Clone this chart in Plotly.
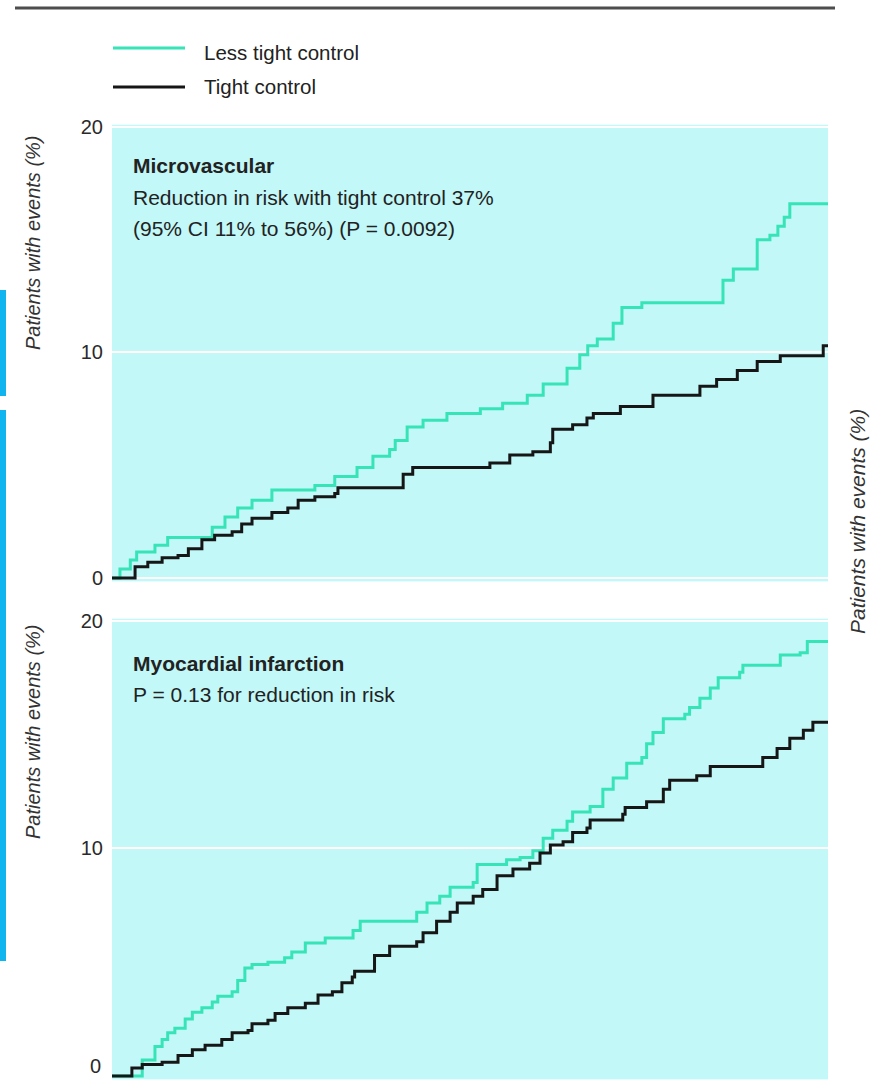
import plotly.graph_objects as go

# Cumulative incidence (%) by years from randomisation, stepwise
micro_less_x = [0, 0.10, 0.23, 0.31, 0.54, 0.70, 1.26, 1.42, 1.58, 1.76, 2.01, 2.55, 2.80,
                3.08, 3.28, 3.49, 3.56, 3.71, 3.91, 4.21, 4.63, 4.91, 5.22, 5.42, 5.72,
                5.88, 5.98, 6.10, 6.30, 6.41, 6.66, 7.68, 7.81, 8.11, 8.27, 8.37, 8.45,
                8.52, 9.0]
micro_less_y = [0, 0.4, 0.8, 1.15, 1.45, 1.8, 2.25, 2.7, 3.1, 3.45, 3.9, 4.1, 4.5,
                4.9, 5.4, 5.7, 6.1, 6.7, 7.0, 7.3, 7.5, 7.75, 8.1, 8.6, 9.3,
                9.9, 10.3, 10.6, 11.3, 12.0, 12.2, 13.2, 13.7, 15.0, 15.2, 15.6, 16.0,
                16.6, 16.6]

micro_tight_x = [0, 0.29, 0.45, 0.63, 0.83, 0.96, 1.13, 1.29, 1.51, 1.63, 1.76, 2.01, 2.21,
                 2.34, 2.55, 2.80, 2.84, 3.66, 3.78, 4.75, 5.00, 5.29, 5.51, 5.54, 5.79,
                 5.97, 6.05, 6.39, 6.80, 7.39, 7.60, 7.86, 8.11, 8.40, 8.94, 9.0]
micro_tight_y = [0, 0.5, 0.7, 0.9, 1.0, 1.3, 1.7, 1.9, 2.05, 2.4, 2.65, 2.9, 3.1,
                 3.45, 3.6, 3.75, 4.0, 4.6, 4.9, 5.1, 5.45, 5.6, 6.0, 6.6, 6.8,
                 7.1, 7.3, 7.6, 8.1, 8.5, 8.8, 9.2, 9.6, 9.85, 10.3, 10.3]

mi_less_x = [0, 0.38, 0.54, 0.63, 0.70, 0.79, 0.92, 1.01, 1.13, 1.26, 1.33, 1.51, 1.58,
             1.67, 1.76, 1.96, 2.17, 2.26, 2.43, 2.68, 3.03, 3.12, 3.83, 3.96, 4.12,
             4.25, 4.54, 4.59, 4.96, 5.13, 5.29, 5.42, 5.54, 5.72, 5.79, 6.01, 6.17,
             6.30, 6.47, 6.66, 6.72, 6.80, 6.93, 7.20, 7.26, 7.39, 7.52, 7.62, 7.89,
             7.93, 8.40, 8.65, 8.74, 9.0]
mi_less_y = [0, 0.7, 1.3, 1.6, 1.9, 2.1, 2.5, 2.8, 3.0, 3.25, 3.5, 3.7, 4.2,
             4.75, 4.9, 5.0, 5.2, 5.45, 5.85, 6.07, 6.4, 6.8, 7.2, 7.6, 7.9,
             8.3, 8.5, 9.3, 9.5, 9.6, 9.9, 10.45, 10.8, 11.2, 11.6, 11.85, 12.6,
             13.1, 13.75, 14.0, 14.6, 15.1, 15.7, 15.9, 16.2, 16.6, 17.05, 17.5, 17.75,
             18.05, 18.5, 18.6, 19.1, 19.1]

mi_tight_x = [0, 0.25, 0.38, 0.63, 0.83, 1.01, 1.17, 1.38, 1.51, 1.71, 1.76, 1.96, 2.05,
              2.21, 2.43, 2.59, 2.77, 2.89, 3.02, 3.05, 3.30, 3.49, 3.83, 3.91, 4.08,
              4.25, 4.34, 4.54, 4.66, 4.84, 5.04, 5.25, 5.38, 5.51, 5.67, 5.79, 5.97,
              6.01, 6.42, 6.45, 6.72, 6.93, 7.01, 7.35, 7.52, 8.18, 8.36, 8.52, 8.69,
              8.81, 9.0]
mi_tight_y = [0, 0.35, 0.5, 0.6, 0.9, 1.15, 1.35, 1.6, 1.9, 2.0, 2.3, 2.45, 2.75,
              3.0, 3.2, 3.56, 3.7, 4.1, 4.35, 4.6, 5.3, 5.7, 5.9, 6.3, 6.8,
              7.2, 7.6, 7.9, 8.2, 8.8, 9.1, 9.35, 9.8, 10.15, 10.3, 10.7, 10.9,
              11.25, 11.5, 11.8, 12.05, 12.6, 13.0, 13.2, 13.6, 14.0, 14.4, 14.85, 15.2,
              15.55, 15.6]

y_ticks = [0, 10, 20]
series_names = ["Less tight control", "Tight control"]

GREEN = "#36e4b8"
BLACK = "#161616"
PANEL = "#c2f8f8"
FONT = "Liberation Sans, Arial, Helvetica, sans-serif"
TICK_FONT = dict(family=FONT, size=20, color="#2a2a2a")

W, H = 871, 1081


def px_x(p):
    return p / W


def px_y(p):
    return 1 - p / H


fig = go.Figure()

for xs, ys, color, name, axis in [
    (micro_less_x, micro_less_y, GREEN, series_names[0], "y"),
    (micro_tight_x, micro_tight_y, BLACK, series_names[1], "y"),
    (mi_less_x, mi_less_y, GREEN, series_names[0], "y2"),
    (mi_tight_x, mi_tight_y, BLACK, series_names[1], "y2"),
]:
    fig.add_trace(go.Scatter(
        x=xs, y=ys, mode="lines", name=name,
        line=dict(color=color, width=3, shape="hv"),
        xaxis="x" if axis == "y" else "x2", yaxis=axis,
        showlegend=False, hoverinfo="skip",
    ))

x_dom = [px_x(112), px_x(828)]
axis_x = dict(range=[0, 9], showgrid=False, showticklabels=False, zeroline=False,
              showline=False, ticks="", automargin=False)
axis_y = dict(range=[-0.15, 20.1], showgrid=True, gridcolor="white", gridwidth=2,
              zeroline=False, showline=False, ticks="", ticklabelstandoff=8,
              automargin=False, tickfont=TICK_FONT)

# the lower panel's baseline label sits at the page edge, so it is placed separately
lower_ticks = [v for v in y_ticks if v > 0]

fig.update_layout(
    width=W, height=H,
    autosize=False,
    margin=dict(l=0, r=0, t=0, b=0, pad=0),
    paper_bgcolor="white",
    plot_bgcolor=PANEL,
    xaxis=dict(domain=x_dom, anchor="y", **axis_x),
    xaxis2=dict(domain=x_dom, anchor="y2", **axis_x),
    yaxis=dict(domain=[px_y(581.4), px_y(124.7)], anchor="x",
               tickvals=y_ticks, ticktext=[str(v) for v in y_ticks], **axis_y),
    yaxis2=dict(domain=[px_y(1079.4), px_y(618.7)], anchor="x2",
                tickvals=lower_ticks, ticktext=[str(v) for v in lower_ticks], **axis_y),
    font=dict(family=FONT, size=20, color="#222"),
)

shapes = [
    # rule across the top
    dict(type="line", xref="paper", yref="paper", x0=px_x(15), x1=px_x(835),
         y0=px_y(8), y1=px_y(8), line=dict(color="#4d4d4d", width=3)),
    # blue side markers
    dict(type="rect", xref="paper", yref="paper", x0=0, x1=px_x(6),
         y0=px_y(396), y1=px_y(290), fillcolor="#10b4ee", line=dict(width=0)),
    dict(type="rect", xref="paper", yref="paper", x0=0, x1=px_x(6),
         y0=px_y(961), y1=px_y(410), fillcolor="#10b4ee", line=dict(width=0)),
    # legend keys
    dict(type="line", xref="paper", yref="paper", x0=px_x(113), x1=px_x(185),
         y0=px_y(48), y1=px_y(48), line=dict(color=GREEN, width=3)),
    dict(type="line", xref="paper", yref="paper", x0=px_x(113), x1=px_x(185),
         y0=px_y(87), y1=px_y(87), line=dict(color=BLACK, width=3)),
]
fig.update_layout(shapes=shapes)

ann = []


def text(x, y, s, size=21, bold=False, italic=False, angle=0, xanchor="left", color="#222"):
    if bold:
        s = "<b>" + s + "</b>"
    if italic:
        s = "<i>" + s + "</i>"
    ann.append(dict(x=px_x(x), y=px_y(y), xref="paper", yref="paper", text=s,
                    showarrow=False, xanchor=xanchor, yanchor="middle",
                    textangle=angle, font=dict(family=FONT, size=size, color=color)))


text(202, 53, series_names[0], size=20.5)
text(202, 86, series_names[1], size=20.5)

text(131, 166, "Microvascular", bold=True)
text(131, 198, "Reduction in risk with tight control 37%")
text(131, 228, "(95% CI 11% to 56%) (P = 0.0092)")

text(131, 663, "Myocardial infarction", bold=True)
text(131, 694, "P = 0.13 for reduction in risk")

text(33, 243, "Patients with events (%)", size=20, italic=True, angle=-90, xanchor="center", color="#333")
text(33, 732, "Patients with events (%)", size=20, italic=True, angle=-90, xanchor="center", color="#333")
text(857, 522, "Patients with events (%)", size=21, italic=True, angle=-90, xanchor="center", color="#333")

# baseline tick label of the lower panel, kept inside the page
ann.append(dict(x=px_x(103), y=y_ticks[0], xref="paper", yref="y2", text=str(y_ticks[0]),
                showarrow=False, xanchor="right", yanchor="bottom", yshift=-3,
                font=TICK_FONT))

fig.update_layout(annotations=ann)

fig.write_html("out.html")
